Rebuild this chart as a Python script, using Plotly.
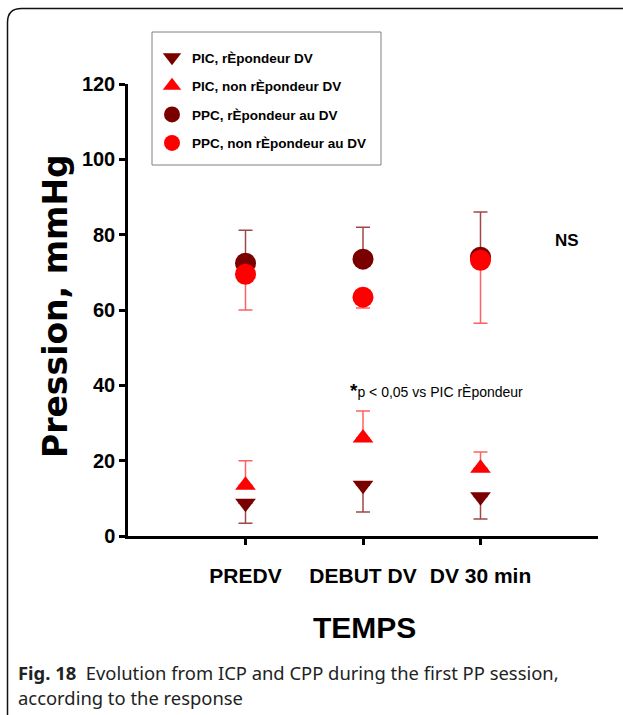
import plotly.graph_objects as go

# ---- data ----
categories = ["PREDV", "DEBUT DV", "DV 30 min"]
xpos = [0, 1, 2]

pic_rep = [8.7, 13.5, 10.4]
pic_rep_err_minus = [5.3, 7.1, 5.9]

pic_nonrep = [13.5, 26.0, 18.0]
pic_nonrep_err_plus = [6.5, 7.2, 4.3]

ppc_rep = [72.4, 73.5, 74.0]
ppc_rep_err_plus = [8.8, 8.5, 12.0]

ppc_nonrep = [69.5, 63.4, 73.2]
ppc_nonrep_err_minus = [9.5, 2.9, 16.7]

y_ticks = [0, 20, 40, 60, 80, 100, 120]

DARK = "#7a0000"
RED = "#ff0000"
DARK_ERR = "#a04848"
RED_ERR = "#ff6060"

W, H = 623, 715
ML, MR, MT, MB = 128, 25, 84, 179
PW, PH = W - ML - MR, H - MT - MB


def px(x):
    return (x - ML) / PW


def py(y):
    return (H - MB - y) / PH


SANS = "Liberation Sans, Arial, sans-serif"

fig = go.Figure()

fig.add_trace(go.Scatter(
    x=xpos, y=pic_rep, mode="markers", name="PIC, rÈpondeur DV",
    legendgroup="a",
    marker=dict(symbol="triangle-down", size=18, color=DARK),
    error_y=dict(type="data", symmetric=False, array=[0, 0, 0],
                 arrayminus=pic_rep_err_minus, color=DARK_ERR, thickness=1.5, width=7),
))
fig.add_trace(go.Scatter(
    x=xpos, y=pic_nonrep, mode="markers", name="PIC, non rÈpondeur DV",
    legendgroup="b",
    marker=dict(symbol="triangle-up", size=18, color=RED),
    error_y=dict(type="data", symmetric=False, array=pic_nonrep_err_plus,
                 arrayminus=[0, 0, 0], color=RED_ERR, thickness=1.5, width=7),
))
fig.add_trace(go.Scatter(
    x=xpos, y=ppc_rep, mode="markers", name="PPC, rÈpondeur au DV",
    legendgroup="c",
    marker=dict(symbol="circle", size=21, color=DARK),
    error_y=dict(type="data", symmetric=False, array=ppc_rep_err_plus,
                 arrayminus=[0, 0, 0], color=DARK_ERR, thickness=1.5, width=7),
))
fig.add_trace(go.Scatter(
    x=xpos, y=ppc_nonrep, mode="markers", name="PPC, non rÈpondeur au DV",
    legendgroup="d",
    marker=dict(symbol="circle", size=21, color=RED),
    error_y=dict(type="data", symmetric=False, array=[0, 0, 0],
                 arrayminus=ppc_nonrep_err_minus, color=RED_ERR, thickness=1.5, width=7),
))

fig.update_layout(
    width=W, height=H,
    margin=dict(l=ML, r=MR, t=MT, b=MB, autoexpand=False),
    paper_bgcolor="white", plot_bgcolor="white",
    font=dict(family=SANS, color="black"),
    showlegend=True,
    legend=dict(
        x=px(152), y=py(42), xanchor="left", yanchor="top",
        borderwidth=0, bgcolor="rgba(0,0,0,0)",
        font=dict(family=SANS, size=13.5, color="black", weight="bold"),
        tracegroupgap=8, itemsizing="trace",
    ),
    xaxis=dict(
        range=[-1, 3], tickmode="array", tickvals=xpos, ticktext=categories,
        tickangle=0, automargin=False,
        showgrid=False, zeroline=False, showline=True, linecolor="black", linewidth=3,
        ticks="outside", ticklen=6, tickwidth=2.5, tickcolor="black",
        ticklabelstandoff=13,
        tickfont=dict(family=SANS, size=21, color="black", weight="bold"),
    ),
    yaxis=dict(
        range=[0, 120], tickmode="array", tickvals=y_ticks, automargin=False,
        showgrid=False, zeroline=False, showline=True, linecolor="black", linewidth=2.5,
        ticks="outside", ticklen=6, tickwidth=2.5, tickcolor="black",
        ticklabelstandoff=0,
        tickfont=dict(family=SANS, size=20, color="black", weight="bold"),
    ),
)

# legend frame
fig.add_shape(type="rect", xref="paper", yref="paper",
              x0=px(152), x1=px(381), y0=py(32), y1=py(165),
              line=dict(color="#808080", width=1), fillcolor="white", layer="below")

# axis titles
fig.add_annotation(
    x=px(364), y=py(627), xref="paper", yref="paper", xanchor="center", yanchor="middle",
    text="<b>TEMPS</b>", showarrow=False,
    font=dict(family=SANS, size=30, color="black"),
)
fig.add_annotation(
    x=px(55), y=py(306), xref="paper", yref="paper", xanchor="center", yanchor="middle",
    text="<b>Pression, mmHg</b>", showarrow=False, textangle=-90,
    font=dict(family="DejaVu Sans, Liberation Sans, Arial", size=33, color="black"),
)

fig.add_annotation(
    x=0.87, y=38.5, xref="x", yref="y", xanchor="left", yanchor="middle",
    text="<b><span style='font-size:19px'>*</span></b>p < 0,05 vs PIC rÈpondeur",
    showarrow=False, font=dict(family=SANS, size=14, color="black"),
)
fig.add_annotation(
    x=2.62, y=78.5, xref="x", yref="y", xanchor="left", yanchor="middle",
    text="<b>NS</b>", showarrow=False, font=dict(family=SANS, size=17, color="black"),
)

# caption
fig.add_annotation(
    x=px(16), y=py(672), xref="paper", yref="paper", xanchor="left", yanchor="middle",
    text="<b>Fig. 18</b>  Evolution from ICP and CPP during the first PP session,",
    showarrow=False, font=dict(family="Noto Sans, Open Sans, sans-serif", size=18.4, color="#222"),
)
fig.add_annotation(
    x=px(16), y=py(697), xref="paper", yref="paper", xanchor="left", yanchor="middle",
    text="according to the response",
    showarrow=False, font=dict(family="Noto Sans, Open Sans, sans-serif", size=18.4, color="#222"),
)

# page frame with rounded top-left corner
r = 14
x0, y0 = 7.5, 8.5
path = (f"M {px(x0)} {py(H)} L {px(x0)} {py(y0 + r)} "
        f"Q {px(x0)} {py(y0)} {px(x0 + r)} {py(y0)} L {px(W)} {py(y0)}")
fig.add_shape(type="path", path=path, xref="paper", yref="paper",
              line=dict(color="#111", width=1.5), layer="above")

fig.write_html("out.html", config={"displayModeBar": False},
               post_script="document.body.style.margin='0px';document.body.style.padding='0px';")
